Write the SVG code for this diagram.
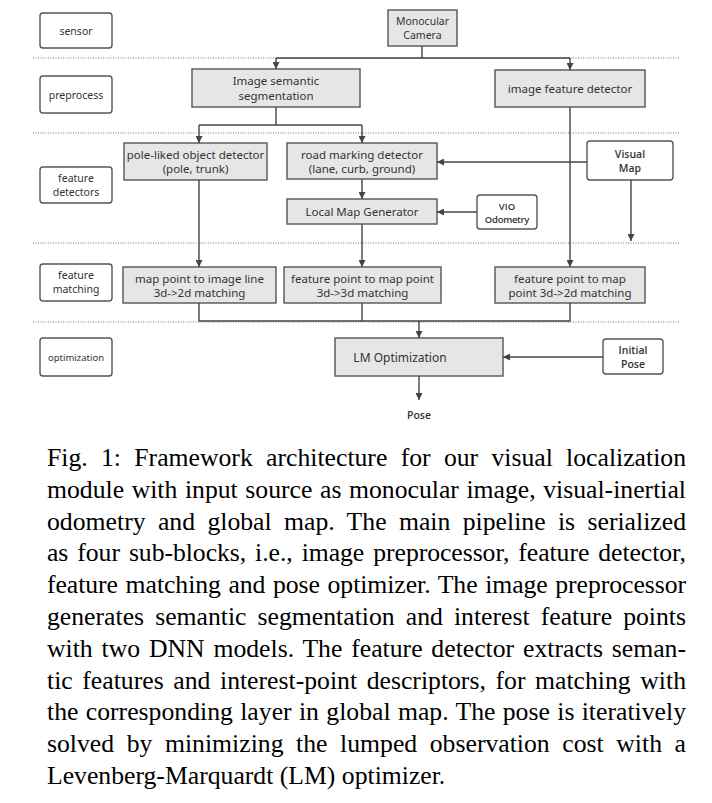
<svg xmlns="http://www.w3.org/2000/svg" width="712" height="803" viewBox="0 0 712 803">
<defs>
<marker id="ah" viewBox="0 0 10 10" refX="10" refY="5" markerWidth="7" markerHeight="7" markerUnits="userSpaceOnUse" orient="auto">
<path d="M0,0 L10,5 L0,10 z" fill="#444"/>
</marker>
<style>
.lbl{fill:#fff;stroke:#555;stroke-width:1.4}
.box{fill:#e6e6e6;stroke:#555;stroke-width:1.4}
.wbox{fill:#fff;stroke:#555;stroke-width:1.4}
.t{font-family:"Noto Sans","Open Sans",sans-serif;font-size:11.5px;fill:#333;text-anchor:middle}
.ts{font-family:"Noto Sans","Open Sans",sans-serif;font-size:10.5px;fill:#333;text-anchor:middle}
.tb{font-family:"Open Sans","Noto Sans",sans-serif;font-size:10.5px;font-weight:600;fill:#333;text-anchor:middle}
.dot{stroke:#777;stroke-width:1;stroke-dasharray:1 1.5;fill:none}
.c{stroke:#444;stroke-width:1.4;fill:none}
.a{stroke:#444;stroke-width:1.4;fill:none;marker-end:url(#ah)}
.cap{font-family:"Liberation Serif","Times New Roman",serif;font-size:25.7px;fill:#000}
</style>
</defs>

<g id="separators">
<line class="dot" x1="33" y1="58" x2="680" y2="58"/>
<line class="dot" x1="33" y1="133" x2="680" y2="133"/>
<line class="dot" x1="33" y1="243" x2="680" y2="243"/>
<line class="dot" x1="33" y1="322" x2="680" y2="322"/>
</g>

<g id="lbl-sensor"><rect class="lbl" x="40" y="13" width="72" height="35" rx="3"/><text class="ts" x="76" y="34.5">sensor</text></g>
<g id="lbl-preprocess"><rect class="lbl" x="40" y="76" width="72" height="37" rx="3"/><text class="ts" x="76" y="98.5">preprocess</text></g>
<g id="lbl-detectors"><rect class="lbl" x="40" y="167" width="72" height="36" rx="3"/><text class="ts" x="76" y="182">feature</text><text class="ts" x="76" y="196">detectors</text></g>
<g id="lbl-matching"><rect class="lbl" x="40" y="264" width="72" height="37" rx="3"/><text class="ts" x="76" y="279">feature</text><text class="ts" x="76" y="293">matching</text></g>
<g id="lbl-optimization"><rect class="lbl" x="40" y="338" width="72" height="38" rx="3"/><text class="ts" x="76" y="360.5" style="font-size:9.5px">optimization</text></g>

<g id="n-camera"><rect class="box" x="388" y="10" width="69" height="36"/><text class="ts" x="422.5" y="25">Monocular</text><text class="ts" x="422.5" y="39">Camera</text></g>
<g id="n-seg"><rect class="box" x="192" y="69" width="168" height="38"/><text class="t" x="276" y="85">Image semantic</text><text class="t" x="276" y="100">segmentation</text></g>
<g id="n-ifd"><rect class="box" x="495" y="70" width="150" height="37"/><text class="t" x="570" y="92.5">image feature detector</text></g>
<g id="n-pole"><rect class="box" x="124" y="143" width="143" height="37"/><text class="t" x="195.5" y="158.5">pole-liked object detector</text><text class="t" x="195.5" y="173">(pole, trunk)</text></g>
<g id="n-road"><rect class="box" x="287" y="143" width="150" height="36"/><text class="t" x="362" y="158.5">road marking detector</text><text class="t" x="362" y="173">(lane, curb, ground)</text></g>
<g id="n-visualmap"><rect class="wbox" x="587" y="141" width="86" height="39" rx="3"/><text class="tb" x="630" y="158">Visual</text><text class="tb" x="630" y="172">Map</text></g>
<g id="n-localmap"><rect class="box" x="287" y="199" width="150" height="25"/><text class="t" x="362" y="215.5">Local Map Generator</text></g>
<g id="n-vio"><rect class="wbox" x="477" y="195" width="60" height="34" rx="3"/><text class="tb" x="507" y="210" style="font-size:9.5px">VIO</text><text class="tb" x="507" y="223" style="font-size:9.5px;letter-spacing:-0.3px">Odometry</text></g>
<g id="n-m1"><rect class="box" x="123" y="267" width="153" height="36"/><text class="t" x="199.5" y="282.5">map point to image line</text><text class="t" x="199.5" y="297">3d-&gt;2d matching</text></g>
<g id="n-m2"><rect class="box" x="284" y="267" width="157" height="36"/><text class="t" x="362.5" y="282.5">feature point to map point</text><text class="t" x="362.5" y="297">3d-&gt;3d matching</text></g>
<g id="n-m3"><rect class="box" x="495" y="267" width="150" height="36"/><text class="t" x="570" y="282.5">feature point to map</text><text class="t" x="570" y="297">point 3d-&gt;2d matching</text></g>
<g id="n-lm"><rect class="box" x="335" y="338" width="168" height="38"/><text class="t" x="400" y="361.5" style="font-size:12px">LM Optimization</text></g>
<g id="n-init"><rect class="wbox" x="603" y="339" width="60" height="35" rx="3"/><text class="tb" x="633" y="354">Initial</text><text class="tb" x="633" y="368">Pose</text></g>
<g id="n-pose"><text class="tb" x="419" y="418.5">Pose</text></g>

<g id="connectors">
<polyline class="c" points="422,46 422,58"/>
<polyline class="a" points="276,58 276,69"/>
<polyline class="c" points="276,58 570,58"/>
<polyline class="a" points="570,58 570,70"/>
<polyline class="c" points="276,107 276,125"/>
<polyline class="c" points="199,125 362,125"/>
<polyline class="a" points="199,125 199,143"/>
<polyline class="a" points="362,125 362,143"/>
<polyline class="a" points="587,162 437,162"/>
<polyline class="a" points="362,179 362,199"/>
<polyline class="a" points="477,212 437,212"/>
<polyline class="a" points="631,180 631,241"/>
<polyline class="a" points="199,180 199,267"/>
<polyline class="a" points="362,224 362,267"/>
<polyline class="a" points="570,107 570,267"/>
<polyline class="c" points="199,303 199,321 570,321 570,303"/>
<polyline class="c" points="362,303 362,321"/>
<polyline class="a" points="419,321 419,338"/>
<polyline class="a" points="603,357 503,357"/>
<polyline class="a" points="419,376 419,400"/>
</g>

<g id="caption">
<text class="cap" x="47" y="466" textLength="639" lengthAdjust="spacing" word-spacing="6.85">Fig. 1: Framework architecture for our visual localization</text>
<text class="cap" x="47" y="497.8" textLength="639" lengthAdjust="spacing" word-spacing="1.13">module with input source as monocular image, visual-inertial</text>
<text class="cap" x="47" y="529.6" textLength="639" lengthAdjust="spacing" word-spacing="5.91">odometry and global map. The main pipeline is serialized</text>
<text class="cap" x="47" y="561.4" textLength="639" lengthAdjust="spacing" word-spacing="2.6">as four sub-blocks, i.e., image preprocessor, feature detector,</text>
<text class="cap" x="47" y="593.2" textLength="639" lengthAdjust="spacing" word-spacing="1.27">feature matching and pose optimizer. The image preprocessor</text>
<text class="cap" x="47" y="625" textLength="639" lengthAdjust="spacing" word-spacing="4.67">generates semantic segmentation and interest feature points</text>
<text class="cap" x="47" y="656.8" textLength="639" lengthAdjust="spacing" word-spacing="2.35">with two DNN models. The feature detector extracts seman-</text>
<text class="cap" x="47" y="688.6" textLength="639" lengthAdjust="spacing" word-spacing="3.18">tic features and interest-point descriptors, for matching with</text>
<text class="cap" x="47" y="720.4" textLength="639" lengthAdjust="spacing" word-spacing="0.88">the corresponding layer in global map. The pose is iteratively</text>
<text class="cap" x="47" y="752.2" textLength="639" lengthAdjust="spacing" word-spacing="6.16">solved by minimizing the lumped observation cost with a</text>
<text class="cap" x="47" y="784">Levenberg-Marquardt (LM) optimizer.</text>
</g>
</svg>
